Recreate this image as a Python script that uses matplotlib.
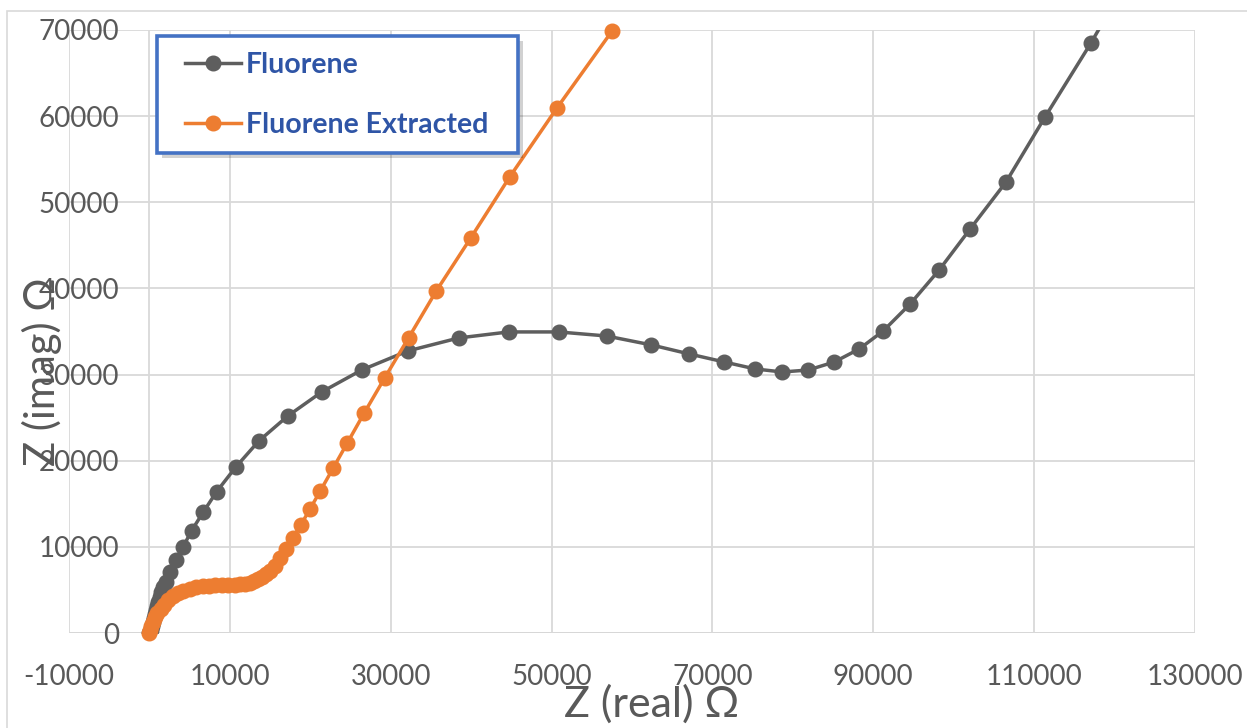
import matplotlib
matplotlib.use("Agg")
import matplotlib.pyplot as plt
from matplotlib.patches import Rectangle
from matplotlib.lines import Line2D

# ---- data ----
fluorene_zreal = [0, 190, 310, 430, 560, 680, 810, 930, 1060, 1300, 1430, 1680, 2010, 2550,
                  3290, 4200, 5240, 6680, 8350, 10740, 13600, 17200, 21420, 26390, 32110,
                  38450, 44660, 50870, 56830, 62420, 67130, 71480, 75330, 78690, 81920,
                  85150, 88250, 91230, 94590, 98190, 102040, 106510, 111360, 117070, 123000]
fluorene_zimag = [0, 350, 810, 1280, 1740, 2210, 2670, 3130, 3600, 4180, 4760, 5340, 5960, 7120,
                  8480, 10020, 11880, 14010, 16400, 19270, 22290, 25190, 27980, 30530, 32740,
                  34250, 34950, 34950, 34480, 33440, 32390, 31460, 30650, 30300, 30530,
                  31460, 32970, 35060, 38200, 42140, 46900, 52360, 59910, 68500, 78100]

extracted_zreal = [0, 100, 250, 450, 700, 1000, 1400, 1800, 2300, 2900, 3500, 4200, 5000, 5800,
                   6600, 7400, 8200, 9000, 9800, 10600, 11300, 11900, 12500, 13000, 13500,
                   14000, 14500, 15000, 15600, 16210, 16920, 17820, 18820, 19970, 21260,
                   22830, 24620, 26730, 29250, 32230, 35670, 39930, 44770, 50650, 57530]
extracted_zimag = [0, 400, 800, 1300, 1800, 2300, 2800, 3300, 3800, 4250, 4600, 4900, 5150, 5300,
                   5420, 5480, 5520, 5560, 5580, 5600, 5650, 5720, 5850, 6000, 6250,
                   6500, 6850, 7250, 7800, 8740, 9750, 11060, 12540, 14400, 16520,
                   19120, 22090, 25580, 29610, 34280, 39710, 45830, 52910, 60920, 69890]

series_labels = ["Fluorene", "Fluorene Extracted"]
x_ticks = [-10000, 10000, 30000, 50000, 70000, 90000, 110000, 130000]
y_ticks = [0, 10000, 20000, 30000, 40000, 50000, 60000, 70000]
x_title = "Z (real) Ω"
y_title = "Z (imag) Ω"

# ---- style ----
W, H = 1247, 728
plt.rcParams['font.family'] = ['Lato', 'DejaVu Sans']
plt.rcParams['axes.unicode_minus'] = False
GREY = '#5E5E5E'
ORANGE = '#ED7D31'
GRID = '#D9D9D9'
TXT = '#595959'
BLUE = '#4472C4'
MS = 10.5
LW = 2.5

fig = plt.figure(figsize=(W / 100, H / 100), dpi=100)
ax = fig.add_axes([69 / W, 1 - 633 / H, (1195 - 69) / W, (633 - 30) / H])

ax.set_xlim(-10000, 130000)
ax.set_ylim(0, 70000)
ax.set_xticks(x_ticks)
ax.set_xticklabels([str(v) for v in x_ticks])
ax.set_yticks(y_ticks)
ax.set_yticklabels([str(v) for v in y_ticks])
ax.grid(True, color=GRID, linewidth=1.3, zorder=0)
ax.set_axisbelow(True)
for s in ax.spines.values():
    s.set_visible(False)
ax.axvline(0, color=GRID, linewidth=1.3, zorder=0.5)
ax.axhline(0, color='#BFBFBF', linewidth=1.3, zorder=0.5)
ax.tick_params(axis='both', length=0, labelsize=20, labelcolor=TXT)
ax.tick_params(axis='y', pad=-36)
ax.tick_params(axis='x', pad=22)

ax.plot(fluorene_zreal, fluorene_zimag, color=GREY, linewidth=LW,
        marker='o', markersize=MS, zorder=3)
ax.plot(extracted_zreal, extracted_zimag, color=ORANGE, linewidth=LW,
        marker='o', markersize=MS, zorder=4, clip_on=False)

fig.text(652 / W, 1 - 704 / H, x_title, fontsize=31, color=TXT, ha='center', va='center')
fig.text(42 / W, 1 - 372 / H, y_title, fontsize=30, color=TXT, ha='center', va='center',
         rotation=90)

# chart border
fig.add_artist(Rectangle((7 / W, -0.1), 1.2, 1.1 - 11 / H, transform=fig.transFigure,
                         fill=False, edgecolor=GRID, linewidth=1.2))

# legend frame with shadow
fig.add_artist(Rectangle(((157 + 5) / W, 1 - (153 + 5) / H), 361 / W, 117 / H,
                         transform=fig.transFigure, facecolor='#000000', alpha=0.18,
                         edgecolor='none', zorder=5))
fig.add_artist(Rectangle((157 / W, 1 - 153 / H), 361 / W, 117 / H,
                         transform=fig.transFigure, facecolor='white',
                         edgecolor=BLUE, linewidth=2.6, zorder=6))

handles = [Line2D([], [], color=GREY, linewidth=LW, marker='o', markersize=MS),
           Line2D([], [], color=ORANGE, linewidth=LW, marker='o', markersize=MS)]
leg = fig.legend(handles, series_labels, loc='upper left',
                 bbox_to_anchor=(185 / W, 1 - 52 / H), bbox_transform=fig.transFigure,
                 frameon=False, borderpad=0, borderaxespad=0, handlelength=1.95,
                 handletextpad=0.2, labelspacing=1.2,
                 prop={'size': 20.5, 'weight': 'bold', 'family': ['Lato', 'DejaVu Sans']})
leg.set_zorder(7)
for t in leg.get_texts():
    t.set_color('#2F55A6')

fig.savefig('out.png', dpi=100)
